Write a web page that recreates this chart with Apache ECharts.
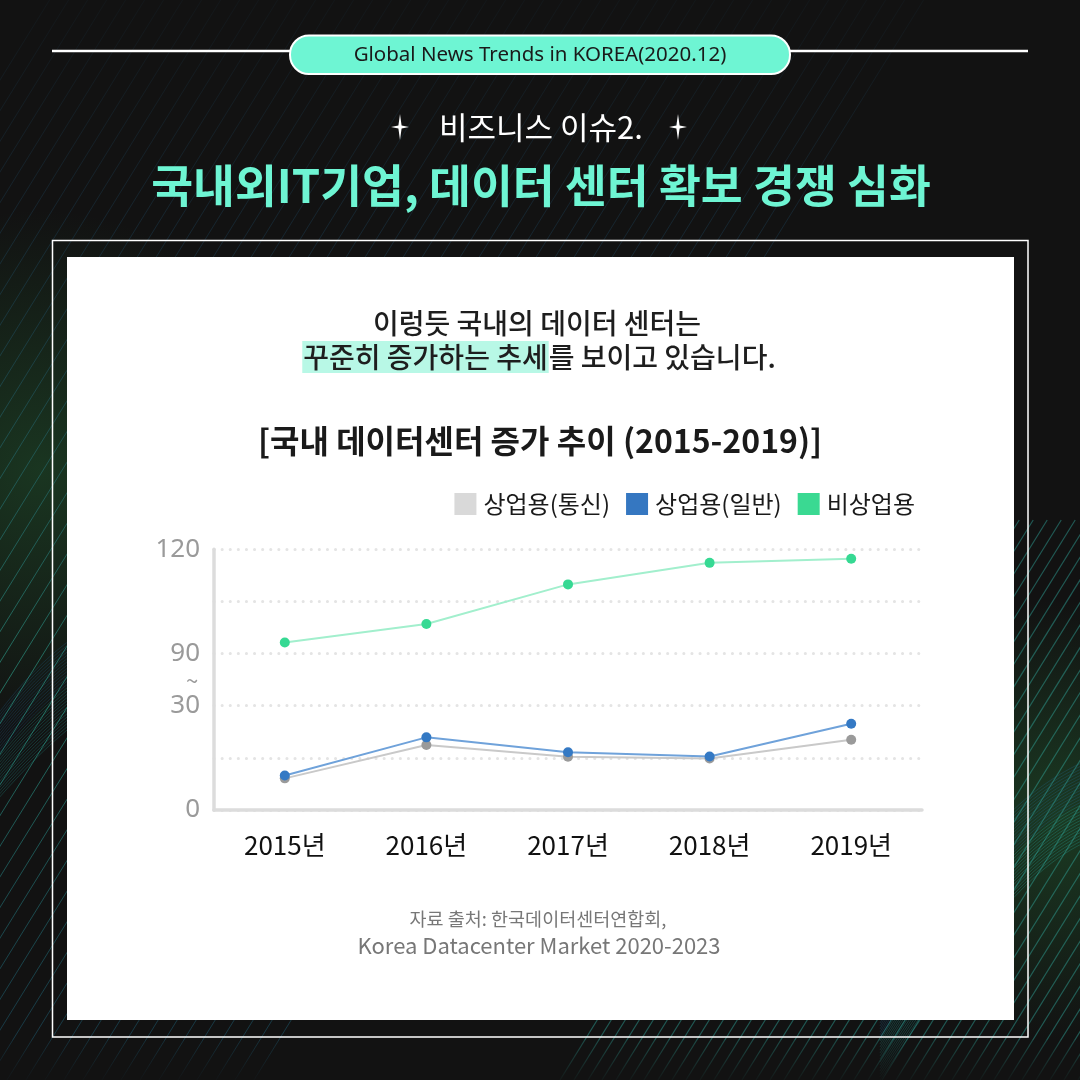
<!DOCTYPE html>
<html>
<head>
<meta charset="utf-8">
<script src="https://cdn.jsdelivr.net/npm/echarts@6/dist/echarts.min.js"></script>
<style>
html,body{margin:0;padding:0;background:#111;}
#c{width:1080px;height:1080px;}
</style>
</head>
<body>
<div id="c"></div>
<script>
// ---- data ----
const categories = ['2015년', '2016년', '2017년', '2018년', '2019년'];
const seriesNames = ['상업용(통신)', '상업용(일반)', '비상업용'];
const telecom = [9.1, 18.7, 15.3, 14.8, 20.2];
const general = [9.9, 20.9, 16.6, 15.4, 24.8];
const nonCommercial = [93.2, 98.5, 109.9, 116.1, 117.3];
const yTickLabels = [0, 30, 90, 120];

// broken axis: 0-30 and 90-120 shown at same scale, 30-90 compressed into one step
function toDisplay(v) {
  if (v <= 30) return v / 15;
  if (v < 90) return 2 + (v - 30) / 60;
  return 3 + (v - 90) / 15;
}

const FONT = '"Noto Sans CJK KR", "Noto Sans", sans-serif';
const chart = echarts.init(document.getElementById('c'), null, {renderer: 'canvas'});

// ---- decorative background ----
const deco = [];
deco.push({type: 'rect', z: 0, shape: {x: 0, y: 0, width: 1080, height: 1080}, style: {fill: '#121212'}});
deco.push({type: 'circle', z: 0, shape: {cx: 40, cy: 470, r: 260},
  style: {fill: new echarts.graphic.RadialGradient(0.5, 0.5, 0.5, [
    {offset: 0, color: 'rgba(40,120,60,0.35)'}, {offset: 1, color: 'rgba(40,120,60,0)'}])}});
deco.push({type: 'circle', z: 0, shape: {cx: 1060, cy: 820, r: 220},
  style: {fill: new echarts.graphic.RadialGradient(0.5, 0.5, 0.5, [
    {offset: 0, color: 'rgba(40,120,60,0.4)'}, {offset: 1, color: 'rgba(40,120,60,0)'}])}});
// left streaks
for (let c = -620; c <= 260; c += 19) {
  const x0 = c, y0 = 1080, x1 = c + 0.62 * 1080, y1 = 0;
  deco.push({type: 'line', z: 0, shape: {x1: x0, y1: y0, x2: x1, y2: y1},
    style: {lineWidth: 1, stroke: new echarts.graphic.LinearGradient(x0, y0, x1, y1, [
      {offset: 0, color: 'rgba(30,110,150,0.35)'},
      {offset: 0.35, color: 'rgba(50,190,160,0.55)'},
      {offset: 0.7, color: 'rgba(40,120,170,0.25)'},
      {offset: 1, color: 'rgba(40,120,170,0.05)'}], true)}});
}
// right-bottom streaks
for (let c = 560; c <= 1180; c += 14) {
  deco.push({type: 'line', z: 0, shape: {x1: c, y1: 1080, x2: c + 0.62 * 560, y2: 520},
    style: {lineWidth: 1.2, stroke: 'rgba(50,175,165,0.45)'}});
}
// mesh waves
for (let k = 0; k < 28; k++) {
  deco.push({type: 'bezierCurve', z: 0, shape: {
      x1: -20, y1: 820 - k * 3, cpx1: 80, cpy1: 700 - k * 4, cpx2: 160, cpy2: 650 - k * 2, x2: 260, y2: 680 - k * 3},
    style: {fill: 'none', lineWidth: 0.6, stroke: k < 14 ? 'rgba(40,180,170,0.4)' : 'rgba(40,120,180,0.35)'}});
  deco.push({type: 'bezierCurve', z: 0, shape: {
      x1: 880, y1: 1080 - k * 3, cpx1: 960, cpy1: 960 - k * 4, cpx2: 1020, cpy2: 870 - k * 3, x2: 1090, y2: 840 - k * 3},
    style: {fill: 'none', lineWidth: 0.6, stroke: k < 14 ? 'rgba(40,180,170,0.45)' : 'rgba(40,120,180,0.4)'}});
}
// fade the very bottom / top-right like the reference
deco.push({type: 'rect', z: 0, shape: {x: 0, y: 1040, width: 1080, height: 40},
  style: {fill: new echarts.graphic.LinearGradient(0, 0, 0, 1, [
    {offset: 0, color: 'rgba(18,18,18,0.2)'}, {offset: 1, color: 'rgba(18,18,18,0.9)'}])}});

function star(cx, cy) {
  const rv = 13, rh = 9, i = 1.6;
  return {type: 'polygon', z: 5, shape: {points: [
    [cx, cy - rv], [cx + i, cy - i], [cx + rh, cy], [cx + i, cy + i],
    [cx, cy + rv], [cx - i, cy + i], [cx - rh, cy], [cx - i, cy - i]]},
    style: {fill: '#ffffff'}};
}

const graphics = deco.concat([
  // header
  {type: 'line', z: 5, shape: {x1: 52, y1: 51, x2: 1028, y2: 51}, style: {stroke: '#ffffff', lineWidth: 2.5}},
  {type: 'rect', z: 6, shape: {x: 290, y: 35.5, width: 500, height: 38.5, r: 19}, style: {fill: '#6ef5d3', stroke: '#ffffff', lineWidth: 2}},
  {type: 'text', z: 7, style: {text: 'Global News Trends in KOREA(2020.12)', x: 540, y: 55.5, align: 'center', verticalAlign: 'middle',
    fill: '#1a1a1a', font: '20.5px "Noto Sans", sans-serif'}},
  star(400, 127), star(678, 127),
  {type: 'text', z: 7, style: {text: '비즈니스 이슈2.', x: 541, y: 127, align: 'center', verticalAlign: 'middle',
    fill: '#ffffff', font: '31px ' + FONT}},
  {type: 'text', z: 7, style: {text: '국내외IT기업, 데이터 센터 확보 경쟁 심화', x: 541, y: 186, align: 'center', verticalAlign: 'middle',
    fill: '#6ef5d3', font: 'bold 45.5px ' + FONT}},
  // frames
  {type: 'rect', z: 5, shape: {x: 52.5, y: 240.5, width: 975.5, height: 796.5}, style: {fill: 'none', stroke: '#ffffff', lineWidth: 1.5}},
  {type: 'rect', z: 5, shape: {x: 67, y: 257, width: 947, height: 763}, style: {fill: '#ffffff'}},
  // panel texts
  {type: 'text', z: 7, style: {text: '이렁듯 국내의 데이터 센터는', x: 537, y: 323, align: 'center', verticalAlign: 'middle',
    fill: '#1e1e1e', font: '500 28px ' + FONT}},
  {type: 'text', z: 7, style: {text: '{h|꾸준히 증가하는 추세}를 보이고 있습니다.', x: 539, y: 357, align: 'center', verticalAlign: 'middle',
    fill: '#1e1e1e', fontSize: 28, fontWeight: 500, fontFamily: FONT,
    rich: {h: {backgroundColor: '#b8f8e6', fontSize: 28, fontWeight: 500, fontFamily: FONT, fill: '#1e1e1e', padding: [2, 1, 2, 1]}}}},
  {type: 'text', z: 7, style: {text: '[국내 데이터센터 증가 추이 (2015-2019)]', x: 540, y: 441, align: 'center', verticalAlign: 'middle',
    fill: '#1a1a1a', font: 'bold 32px ' + FONT}},
  {type: 'text', z: 7, style: {text: '~', x: 192, y: 681, align: 'center', verticalAlign: 'middle',
    fill: '#9a9a9a', font: '22px ' + FONT}},
  {type: 'text', z: 7, style: {text: '자료 출처: 한국데이터센터연합회,', x: 538, y: 919, align: 'center', verticalAlign: 'middle',
    fill: '#777777', font: '18.5px ' + FONT}},
  {type: 'text', z: 7, style: {text: 'Korea Datacenter Market 2020-2023', x: 539, y: 946, align: 'center', verticalAlign: 'middle',
    fill: '#777777', font: '22px ' + FONT}}
]);

const lineColors = ['#c9c9c9', '#6fa2da', '#a2efcd'];
const dotColors = ['#9a9a9a', '#3479c4', '#36d993'];
const legendColors = ['#d9d9d9', '#3577c1', '#3ad992'];
const rawSeries = [telecom, general, nonCommercial];

chart.setOption({
  animation: false,
  backgroundColor: '#121212',
  graphic: {elements: graphics},
  legend: {
    right: 160, top: 487, itemWidth: 22, itemHeight: 22, itemGap: 16,
    icon: 'rect', z: 10,
    textStyle: {fontSize: 24, fontFamily: FONT, color: '#1a1a1a', padding: [0, 0, 0, 2]},
    data: seriesNames.map((n, i) => ({name: n, itemStyle: {color: legendColors[i]}}))
  },
  grid: {left: 214, right: 158, top: 549.3, bottom: 270, containLabel: false, z: 10},
  xAxis: {
    type: 'category', data: categories, boundaryGap: true, z: 10,
    axisLine: {lineStyle: {color: '#dcdcdc', width: 3.5}},
    axisTick: {show: false},
    axisLabel: {fontSize: 26, fontFamily: FONT, color: '#111111', margin: 22}
  },
  yAxis: {
    type: 'value', min: 0, max: 5, interval: 1, z: 10,
    axisLine: {show: true, lineStyle: {color: '#dcdcdc', width: 3.5}},
    axisTick: {show: false},
    splitLine: {show: true, lineStyle: {color: '#e4e4e4', width: 3, type: [0.1, 8], cap: 'round'}},
    axisLabel: {
      fontSize: 26, fontFamily: '"Noto Sans", sans-serif', color: '#9a9a9a', margin: 14,
      formatter: function (d) {
        const t = yTickLabels.find(v => Math.abs(toDisplay(v) - d) < 1e-6);
        return t === undefined ? '' : String(t);
      }
    }
  },
  series: rawSeries.map((arr, i) => ({
    name: seriesNames[i], type: 'line', z: 10 + i,
    data: arr.map(toDisplay),
    symbol: 'circle', symbolSize: 10,
    itemStyle: {color: dotColors[i]},
    lineStyle: {color: lineColors[i], width: 2}
  }))
});
</script>
</body>
</html>
